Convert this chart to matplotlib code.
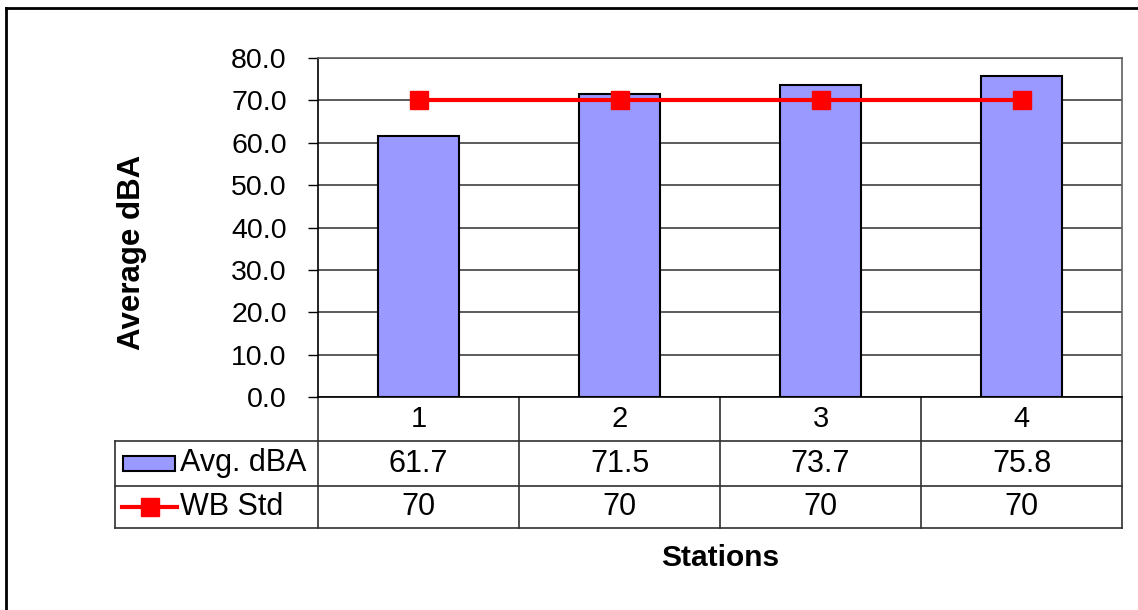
import numpy as np
import matplotlib
matplotlib.use('Agg')
import matplotlib.pyplot as plt
from matplotlib.patches import Rectangle
from matplotlib.lines import Line2D
import matplotlib.transforms as mtransforms

# chart data
stations = ['1', '2', '3', '4']
avg_dba = [61.7, 71.5, 73.7, 75.8]
wb_std = [70, 70, 70, 70]
series_names = ['Avg. dBA', 'WB Std']
yticks = np.arange(0, 90, 10)

BAR_COLOR = '#9999ff'
LINE_COLOR = '#ff0000'
GRID_COLOR = '#404040'

plt.rcParams['font.family'] = ['Liberation Sans', 'DejaVu Sans']

W, H = 1138, 610
fig = plt.figure(figsize=(W / 100, H / 100), dpi=100)

# plot area in pixel terms
left, right, top, bottom = 318, 1122, 58, 397
ax = fig.add_axes([left / W, 1 - bottom / H, (right - left) / W, (bottom - top) / H])

x = np.arange(1, len(stations) + 1)
ax.bar(x, avg_dba, width=0.4, color=BAR_COLOR, edgecolor='black', linewidth=1.5, zorder=3)
ax.plot(x, wb_std, color=LINE_COLOR, lw=3, marker='s', ms=13, zorder=4)

ax.set_xlim(0.5, len(stations) + 0.5)
ax.set_ylim(0, 80)
ax.set_yticks(yticks)
ax.set_yticklabels([f'{v:.1f}' for v in yticks], fontsize=20.5)
ax.tick_params(axis='y', length=7.5, width=1, pad=15)
ax.set_xticks([])
ax.yaxis.grid(True, color=GRID_COLOR, lw=1.2)
ax.set_axisbelow(True)
for s in ['top', 'right']:
    ax.spines[s].set_color('#606060')
    ax.spines[s].set_linewidth(1.2)
ax.spines['left'].set_linewidth(1.2)
ax.spines['bottom'].set_linewidth(1.2)

# data table under the axis
ph = bottom - top
pw = right - left
r1 = -(441 - bottom) / ph
r2 = -(486 - bottom) / ph
r3 = -(528 - bottom) / ph
tleft = (115 - left) / pw
tc = dict(color='#303030', lw=1.2, clip_on=False)
blend = mtransforms.blended_transform_factory(ax.transData, ax.transAxes)

for b in np.arange(0.5, len(stations) + 1, 1.0):
    ax.add_line(Line2D([b, b], [0, r3], transform=blend, **tc))
for r in (r1, r2, r3):
    ax.add_line(Line2D([tleft, 1], [r, r], transform=ax.transAxes, **tc))
ax.add_line(Line2D([tleft, tleft], [r1, r3], transform=ax.transAxes, **tc))

for xi, lab, a, w in zip(x, stations, avg_dba, wb_std):
    ax.text(xi, r1 / 2, lab, transform=blend, ha='center', va='center', fontsize=21)
    ax.text(xi, (r1 + r2) / 2, f'{a:.1f}', transform=blend, ha='center', va='center', fontsize=22)
    ax.text(xi, (r2 + r3) / 2, f'{w:g}', transform=blend, ha='center', va='center', fontsize=22)

# legend keys inside the table
kx0 = (123 - left) / pw
kx1 = (175 - left) / pw
ky0 = -(471 - bottom) / ph
ky1 = -(456 - bottom) / ph
ax.add_patch(Rectangle((kx0, ky0), kx1 - kx0, ky1 - ky0, transform=ax.transAxes,
                       facecolor=BAR_COLOR, edgecolor='black', lw=1.5, clip_on=False))
ly = (r2 + r3) / 2
lx = [(122 - left) / pw, (149.5 - left) / pw, (177 - left) / pw]
ax.add_line(Line2D(lx, [ly] * 3, transform=ax.transAxes, color=LINE_COLOR, lw=3,
                   marker='s', ms=13, markevery=[1], clip_on=False))
tx = (180 - left) / pw
ax.text(tx, (r1 + r2) / 2, series_names[0], transform=ax.transAxes, ha='left', va='center', fontsize=22)
ax.text(tx, (r2 + r3) / 2, series_names[1], transform=ax.transAxes, ha='left', va='center', fontsize=22)

# axis titles
fig.text(132 / W, 1 - 252 / H, 'Average dBA', rotation=90, ha='center', va='center',
         fontsize=22.5, fontweight='bold')
fig.text(720 / W, 1 - 558 / H, 'Stations', ha='center', va='center',
         fontsize=21.5, fontweight='bold')

# chart area frame (only left and top edges visible)
fig.add_artist(Line2D([6 / W, 6 / W], [0, 1 - 8 / H], transform=fig.transFigure, color='black', lw=2))
fig.add_artist(Line2D([6 / W, 1], [1 - 8 / H, 1 - 8 / H], transform=fig.transFigure, color='black', lw=2))

fig.savefig('out.png', dpi=100, facecolor='white')
